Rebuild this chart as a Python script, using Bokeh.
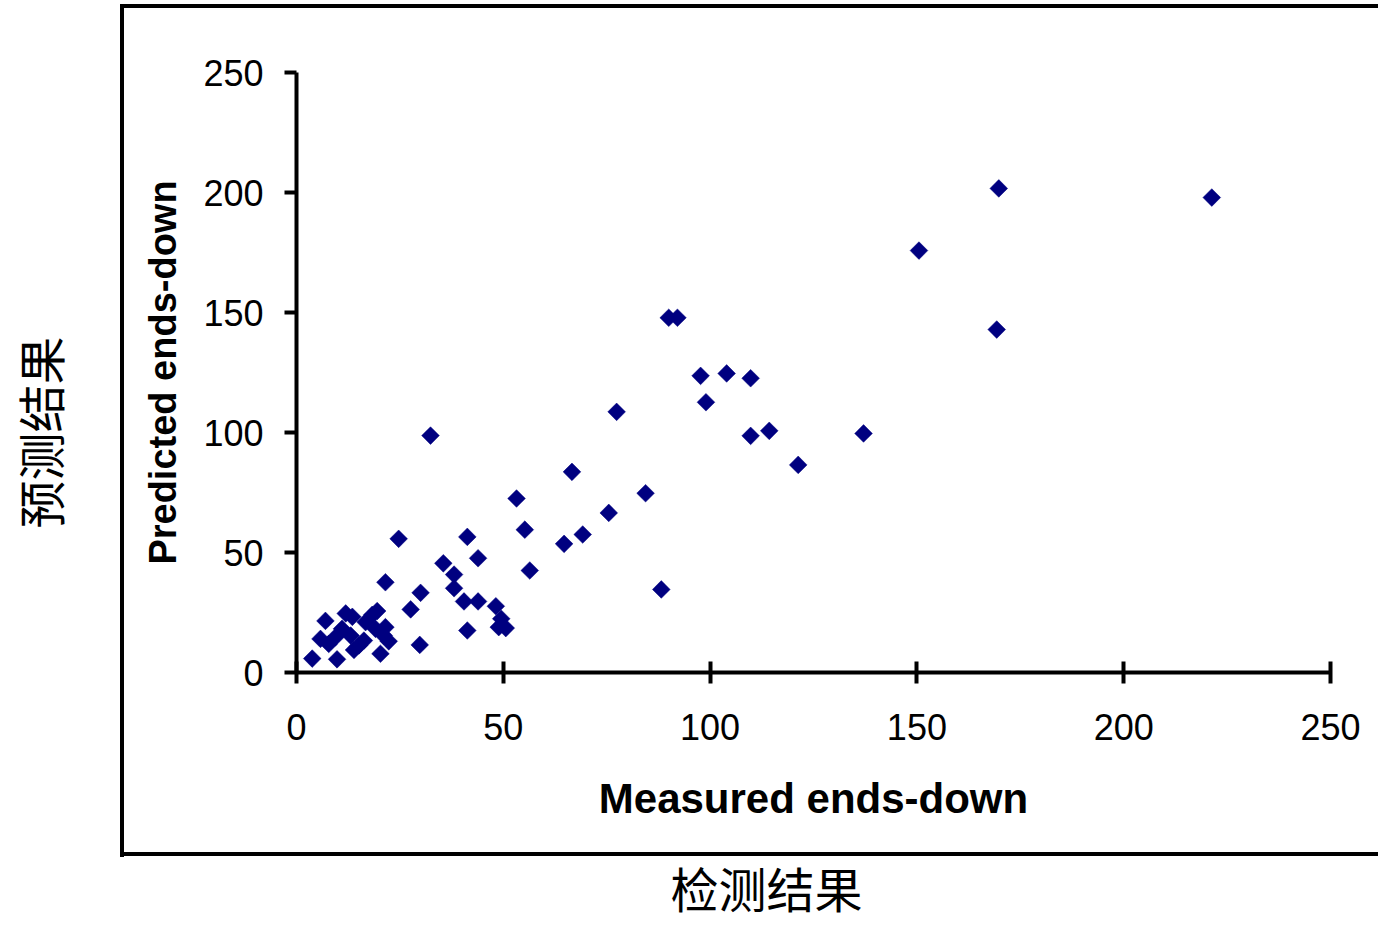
import math
from bokeh.plotting import figure
from bokeh.models import Range1d, FixedTicker, Title
from bokeh.embed import file_html
from bokeh.resources import INLINE

measured = [3.8, 9.8, 20.3, 7.0, 5.8, 7.8, 11.9, 13.5, 11.0, 9.4, 13.1, 13.9, 16.3, 15.1,
            18.3, 19.5, 16.7, 19.1, 21.5, 22.3, 21.1, 21.5, 24.7,
            27.6, 30.0, 29.8, 32.4, 35.5, 38.1, 38.1, 40.5, 43.9, 41.3, 41.3, 43.9, 48.2,
            49.5, 50.6, 48.9, 53.2, 55.2, 56.4, 64.7, 66.6, 69.2, 75.5, 77.4, 84.4, 88.2,
            90.0, 92.1, 97.7, 99.0, 104.0, 109.8, 109.8, 114.3, 121.3, 137.1, 150.5,
            169.3, 169.8, 221.3]
predicted = [5.8, 5.5, 7.8, 21.5, 14.0, 11.9, 24.6, 23.2, 18.2, 14.7, 15.4, 9.4, 13.3, 11.3,
             24.0, 25.6, 21.0, 18.2, 18.9, 13.0, 15.4, 37.6, 55.7,
             26.3, 33.2, 11.5, 98.7, 45.5, 40.8, 35.1, 29.6, 29.6, 17.5, 56.5, 47.6, 27.6,
             22.4, 18.5, 18.9, 72.5, 59.5, 42.5, 53.6, 83.6, 57.5, 66.5, 108.6, 74.7, 34.6,
             147.8, 147.8, 123.6, 112.6, 124.6, 122.6, 98.6, 100.7, 86.5, 99.6, 175.8,
             142.9, 201.7, 197.9]
ticks = [0, 50, 100, 150, 200, 250]
x_title = "Measured ends-down"
y_title = "Predicted ends-down"
x_title_cn = "检测结果"
y_title_cn = "预测结果"

W, H = 1378, 921
p = figure(width=W, height=H, output_backend="svg", toolbar_location=None,
           x_range=Range1d(0, 250), y_range=Range1d(0, 250),
           min_border_left=296, min_border_right=W - 1330, min_border_top=72,
           min_border_bottom=H - 672)
p.outline_line_color = None
p.grid.visible = False
p.background_fill_color = "white"
p.border_fill_color = None
# outer chart-area frame (left, top, bottom edges; right edge lies beyond the view)
p.styles = {
    "background-color": "white",
    "background-image": "linear-gradient(#000,#000), linear-gradient(#000,#000), linear-gradient(#000,#000)",
    "background-size": "4px 853px, 100% 4px, 100% 4px",
    "background-position": "120px 4px, 120px 4px, 120px 852px",
    "background-repeat": "no-repeat",
}

p.scatter(measured, predicted, marker="square", size=12.5, angle=math.pi / 4,
          fill_color="#000080", line_color="#000080", line_width=0.5)

FONT = "Liberation Sans"
for ax in (p.xaxis[0], p.yaxis[0]):
    ax.ticker = FixedTicker(ticks=ticks)
    ax.minor_tick_line_color = None
    ax.axis_line_width = 4
    ax.axis_line_color = "black"
    ax.major_tick_line_width = 4
    ax.major_tick_line_color = "black"
    ax.major_label_text_font = FONT
    ax.major_label_text_font_size = "36px"
    ax.major_label_text_color = "black"
    ax.axis_label_text_font = FONT
    ax.axis_label_text_font_style = "bold"
    ax.axis_label_text_color = "black"

p.xaxis.major_tick_in = 11
p.xaxis.major_tick_out = 11
p.xaxis.major_label_standoff = 30
p.xaxis.axis_label = x_title
p.xaxis.axis_label_text_font_size = "42px"
p.xaxis.axis_label_standoff = 32

p.yaxis.major_tick_in = 0
p.yaxis.major_tick_out = 12
p.yaxis.major_label_standoff = 21
p.yaxis.axis_label = y_title
p.yaxis.axis_label_text_font_size = "38px"
p.yaxis.axis_label_standoff = 16


def spacer(size):
    # blank padding panel between the axis and the outer caption
    return Title(text=" ", text_font_size="1px", text_color="white", standoff=size)


p.add_layout(spacer(22), "below")
tb = Title(text=x_title_cn, align="left", offset=374, standoff=0,
           text_font="Noto Sans CJK SC", text_font_size="48px", text_font_style="normal",
           text_color="black")
p.add_layout(tb, "below")

p.add_layout(spacer(63), "left")
tl = Title(text=y_title_cn, align="left", offset=144, standoff=0,
           text_font="Noto Sans CJK SC", text_font_size="48px", text_font_style="normal",
           text_color="black")
p.add_layout(tl, "left")

open("out.html", "w").write(file_html(p, INLINE))
